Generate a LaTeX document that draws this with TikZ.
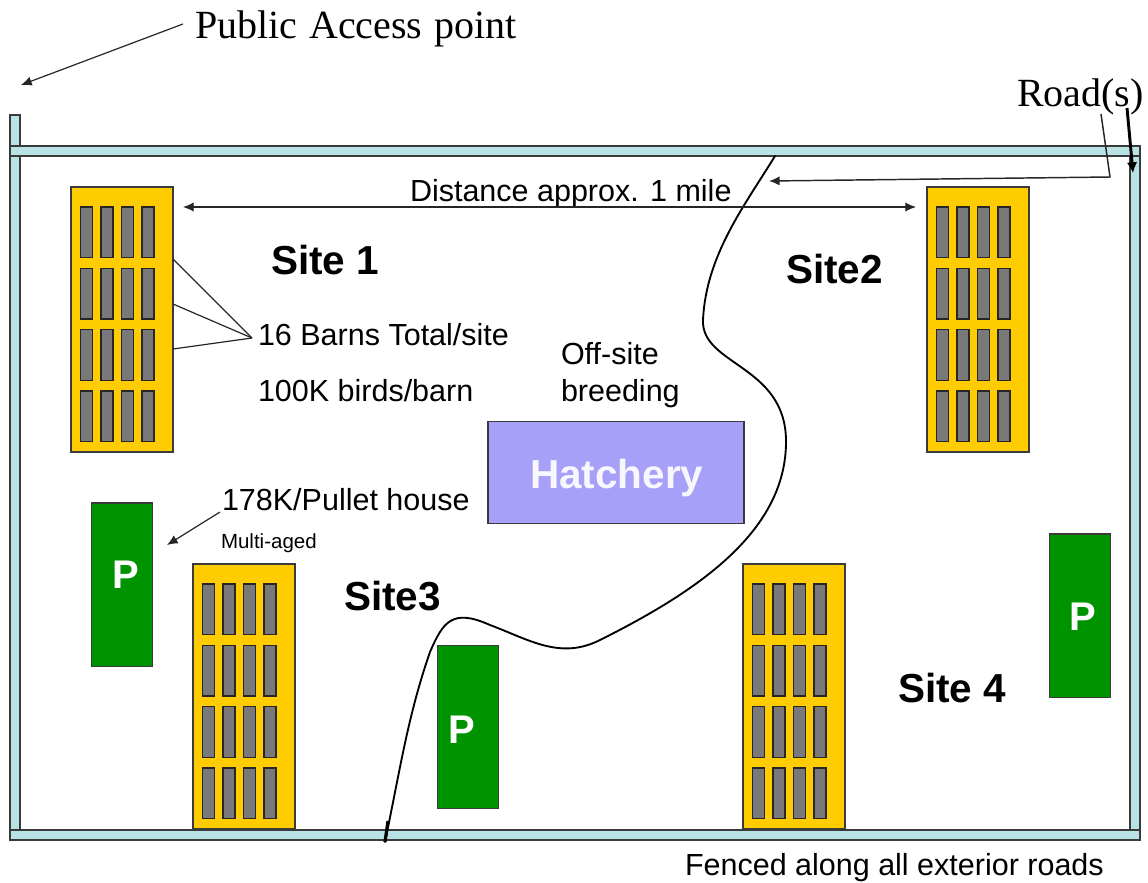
\documentclass[tikz,border=0pt]{standalone}
\usepackage{fontspec}
\setmainfont{Liberation Sans}
\newfontfamily\timesf{Liberation Serif}
\usetikzlibrary{arrows.meta}
\definecolor{fence}{HTML}{B9E2E4}
\definecolor{barnc}{HTML}{FFCC00}
\definecolor{penc}{HTML}{009300}
\definecolor{hatch}{HTML}{A6A0F8}
\definecolor{edgec}{HTML}{3A3A3A}
\newcommand{\px}[1]{\fontsize{\dimexpr#1pt*3/4\relax}{\dimexpr#1pt*3/4\relax}\selectfont}
\tikzset{
  x=0.75pt,y=-0.75pt,
  box/.style={draw=edgec,line width=0.9pt,inner sep=0pt,outer sep=0pt,anchor=north west},
  fencebox/.style={box,fill=fence,line width=1.2pt},
  block/.style={box,fill=barnc,minimum width=76.5pt,minimum height=198.75pt},
  win/.style={box,fill=gray!95!black,draw=black!85,line width=1.1pt,minimum width=9pt,minimum height=38pt},
  pen/.style={box,fill=penc,minimum width=46pt,minimum height=122.5pt},
  lab/.style={anchor=base west,inner sep=0pt,outer sep=0pt,text=black},
  site/.style={lab,font=\px{40.5}\bfseries},
  txt/.style={lab,font=\px{30.5}},
  serif/.style={lab,font=\timesf\px{40}},
  plabel/.style={inner sep=0pt,outer sep=0pt,text=white,font=\px{40}\bfseries},
  conn/.style={line width=0.9pt,draw=black!85},
  arrowc/.style={conn,-{Latex[length=8pt,width=7pt]}},
  road/.style={line width=1.4pt,draw=black,line cap=round}
}
\newcommand{\barn}[3]{%
  \node[block] (#1) at (#2,#3) {};
  \foreach \cx/\ci in {9.5/a,30/b,50.5/c,71/d}{
    \foreach \cy/\cj in {20/r,81.3/s,142.6/t,204/u}{
      \node[win] (#1\ci\cj) at ({#2+\cx},{#3+\cy}) {};
    }
  }%
}
\begin{document}
\begin{tikzpicture}
\useasboundingbox (0,0) rectangle (1148,882);
% fences
\node[fencebox,minimum width=7.5pt,minimum height=536pt] (fenceL) at (10,115) {};
\node[fencebox,minimum width=7.5pt,minimum height=506pt] (fenceR) at (1130,156) {};
\node[fencebox,minimum width=847.5pt,minimum height=7.5pt] (fenceT) at (10,146) {};
\node[fencebox,minimum width=847.5pt,minimum height=7.5pt] (fenceB) at (10,830) {};
% barn blocks
\barn{siteA}{71}{187}
\barn{siteB}{927}{187}
\barn{siteC}{193}{564}
\barn{siteD}{743}{564}
% pens
\node[pen] (penA) at (91.5,503) {};
\node[pen] (penB) at (437.5,645.5) {};
\node[pen] (penC) at (1049.5,534) {};
\node[plabel] (pA) at (126,575) {P};
\node[plabel] (pB) at (462,730) {P};
\node[plabel] (pC) at (1083,617) {P};
% hatchery
\node[box,fill=hatch,minimum width=192pt,minimum height=76.5pt] (hatchery) at (488,421.5) {};
\node[lab,text=white!92!hatch,font=\px{40.5}\bfseries] (hatchText) at (530,488) {Hatchery};
% road
\coordinate (roadN) at (775,156);
\coordinate (roadS) at (385,842);
\draw[road] (roadN) .. controls (745,205) and (706,255) .. (703,320)
  .. controls (701,365) and (785,365) .. (786,440)
  .. controls (787,530) and (700,590) .. (600,640)
  .. controls (560,660) and (530,640) .. (490,625)
  .. controls (452,608) and (443,622) .. (430,652)
  .. controls (408,715) and (400,770) .. (roadS);
\coordinate (tickA) at (388,821);
\draw[line width=2.4pt] (tickA) -- (roadS);
% labels
\node[serif] (pubText) at (195,38) {Public\hspace{1.5pt} Access\hspace{1.5pt} point};
\node[serif] (roadText) at (1017,106) {Road(s)};
\node[txt] (distText) at (410,201) {Distance approx. 1 mile};
\node[site] (s1) at (271,274) {Site 1};
\node[site] (s2) at (786,283) {Site2};
\node[site] (s3) at (344,610) {Site3};
\node[site] (s4) at (898,702) {Site 4};
\node[txt] (barns) at (258,345) {16 Barns Total/site};
\node[txt] (birds) at (258,401) {100K birds/barn};
\node[txt] (off1) at (561,364) {Off-site};
\node[txt] (off2) at (561,401) {breeding};
\node[txt] (pullet) at (222,510) {178K/Pullet house};
\node[lab,font=\px{20.5}] (multi) at (221,548) {Multi-aged};
\node[txt] (fenced) at (685,875) {Fenced along all exterior roads};
% connectors
\coordinate (pubFrom) at (183,24);
\coordinate (pubTo) at (21,85);
\draw[arrowc] (pubFrom) -- (pubTo);
\coordinate (distL) at (183,207);
\coordinate (distR) at (916,207);
\draw[conn,{Latex[length=8pt,width=7pt]}-{Latex[length=8pt,width=7pt]}] (distL) -- (distR);
\coordinate (roadA) at (1101,114);
\coordinate (roadB) at (1110,177);
\coordinate (roadC) at (769,181);
\draw[arrowc,line width=1.1pt] (roadA) -- (roadB) -- (roadC);
\coordinate (roadD) at (1127,108);
\coordinate (roadE) at (1133,173);
\draw[line width=2.2pt,-{Latex[length=8pt,width=8pt]}] (roadD) -- (roadE);
\coordinate (barnsTip) at (252,338);
\draw[conn] (173,259) coordinate (ba) -- (barnsTip);
\draw[conn] (173,304) coordinate (bb) -- (barnsTip);
\draw[conn] (173,349) coordinate (bc) -- (barnsTip);
\coordinate (pulFrom) at (220,512);
\coordinate (pulTo) at (167,545);
\draw[arrowc] (pulFrom) -- (pulTo);
\end{tikzpicture}
\end{document}
